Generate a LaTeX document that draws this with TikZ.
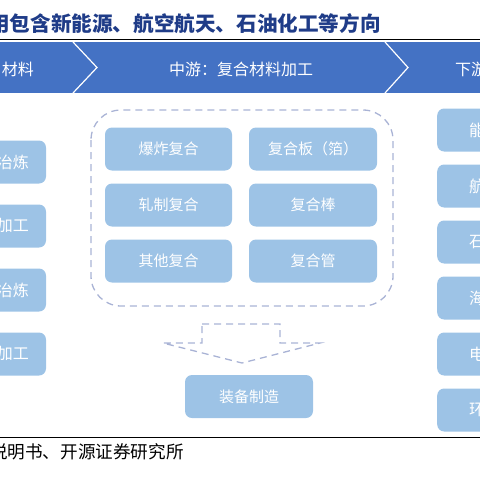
\documentclass[tikz,border=0pt]{standalone}
\usepackage{fontspec}
\setmainfont{Noto Sans CJK SC}
\usepackage{xcolor}
\usepackage{tikz}
\usetikzlibrary{positioning}
\definecolor{bandBlue}{HTML}{4472C4}
\definecolor{boxBlue}{HTML}{9DC3E6}
\definecolor{dashGrey}{HTML}{A9B3D5}
\definecolor{titleBlue}{HTML}{1F3C88}

\begin{document}
\begin{tikzpicture}[x=1pt,y=-1pt,
  blk/.style={rounded corners=7pt,fill=boxBlue,minimum height=43pt,inner sep=0pt,
    text=white,font=\fontsize{15}{15}\selectfont},
  txt/.style={inner sep=0pt,text=white,font=\fontsize{16}{16}\selectfont},
  dsh/.style={dashGrey,line width=1.3pt,dash pattern=on 7pt off 5pt}]
\useasboundingbox (0,0) rectangle (480,480);
\clip (0,0) rectangle (480,480);
% --- title ---
  \node[inner sep=0pt,anchor=east,text=titleBlue,
    font=\fontsize{20.6}{20.6}\selectfont\bfseries] (title) at (381,24) {用包含新能源、航空航天、石油化工等方向};
  \draw[line width=1.4pt] (0,39.5) -- (480,39.5);
% --- band ---
  \fill[bandBlue] (0,42) rectangle (480,93);
  \draw[white,line width=1.2pt] (73,42) -- (97,67.5) -- (73,93);
  \draw[white,line width=1.2pt] (385,42) -- (408,67.5) -- (385,93);
  \node[txt,anchor=east] (up) at (34,69) {材料};
  \node[txt] (mid) at (241,69) {中游：复合材料加工};
  \node[txt,anchor=west] (down) at (455,69) {下游};
% --- upstream ---
  \node[blk,minimum width=126pt] (l1) at (-17,162) {};
  \node[blk,minimum width=126pt] (l2) at (-17,226) {};
  \node[blk,minimum width=126pt] (l3) at (-17,290) {};
  \node[blk,minimum width=126pt] (l4) at (-17,354) {};
  \node[txt,left=17pt of l1.east] (l1t) {冶炼};
  \node[txt,left=17pt of l2.east] (l2t) {加工};
  \node[txt,left=17pt of l3.east] (l3t) {冶炼};
  \node[txt,left=17pt of l4.east] (l4t) {加工};
% --- midstream ---
  \draw[dsh,rounded corners=30pt] (91,110) rectangle (393,306);
  \node[blk,minimum width=127pt] (m1) at (168.5,149) {爆炸复合};
  \node[blk,minimum width=127pt] (m2) at (168.5,205) {轧制复合};
  \node[blk,minimum width=127pt] (m3) at (168.5,261) {其他复合};
  \node[blk,minimum width=128pt] (m4) at (313,149) {复合板（箔）};
  \node[blk,minimum width=128pt] (m5) at (313,205) {复合棒};
  \node[blk,minimum width=128pt] (m6) at (313,261) {复合管};
  \draw[dsh] (202,324) -- (280,324) -- (280,343) -- (320,343) -- (242,363)
    -- (163,343) -- (202,343) -- cycle;
  \node[blk,minimum width=128pt] (eq) at (249,396.5) {装备制造};
% --- downstream ---
  \node[blk,minimum width=126pt,anchor=west] (r1) at (437,130) {};
  \node[blk,minimum width=126pt,anchor=west] (r2) at (437,186) {};
  \node[blk,minimum width=126pt,anchor=west] (r3) at (437,242) {};
  \node[blk,minimum width=126pt,anchor=west] (r4) at (437,298) {};
  \node[blk,minimum width=126pt,anchor=west] (r5) at (437,354) {};
  \node[blk,minimum width=126pt,anchor=west] (r6) at (437,410) {};
  \node[txt,right=32pt of r1.west] (r1t) {能};
  \node[txt,right=32pt of r2.west] (r2t) {航};
  \node[txt,right=32pt of r3.west] (r3t) {石};
  \node[txt,right=32pt of r4.west] (r4t) {海};
  \node[txt,right=32pt of r5.west] (r5t) {电};
  \node[txt,right=32pt of r6.west] (r6t) {环};
% --- source ---
  \draw[line width=1.2pt] (0,437.5) -- (480,437.5);
  \node[inner sep=0pt,anchor=east,font=\fontsize{17.6}{17.6}\selectfont] (src) at (184,452) {说明书、开源证券研究所};
\end{tikzpicture}
\end{document}
